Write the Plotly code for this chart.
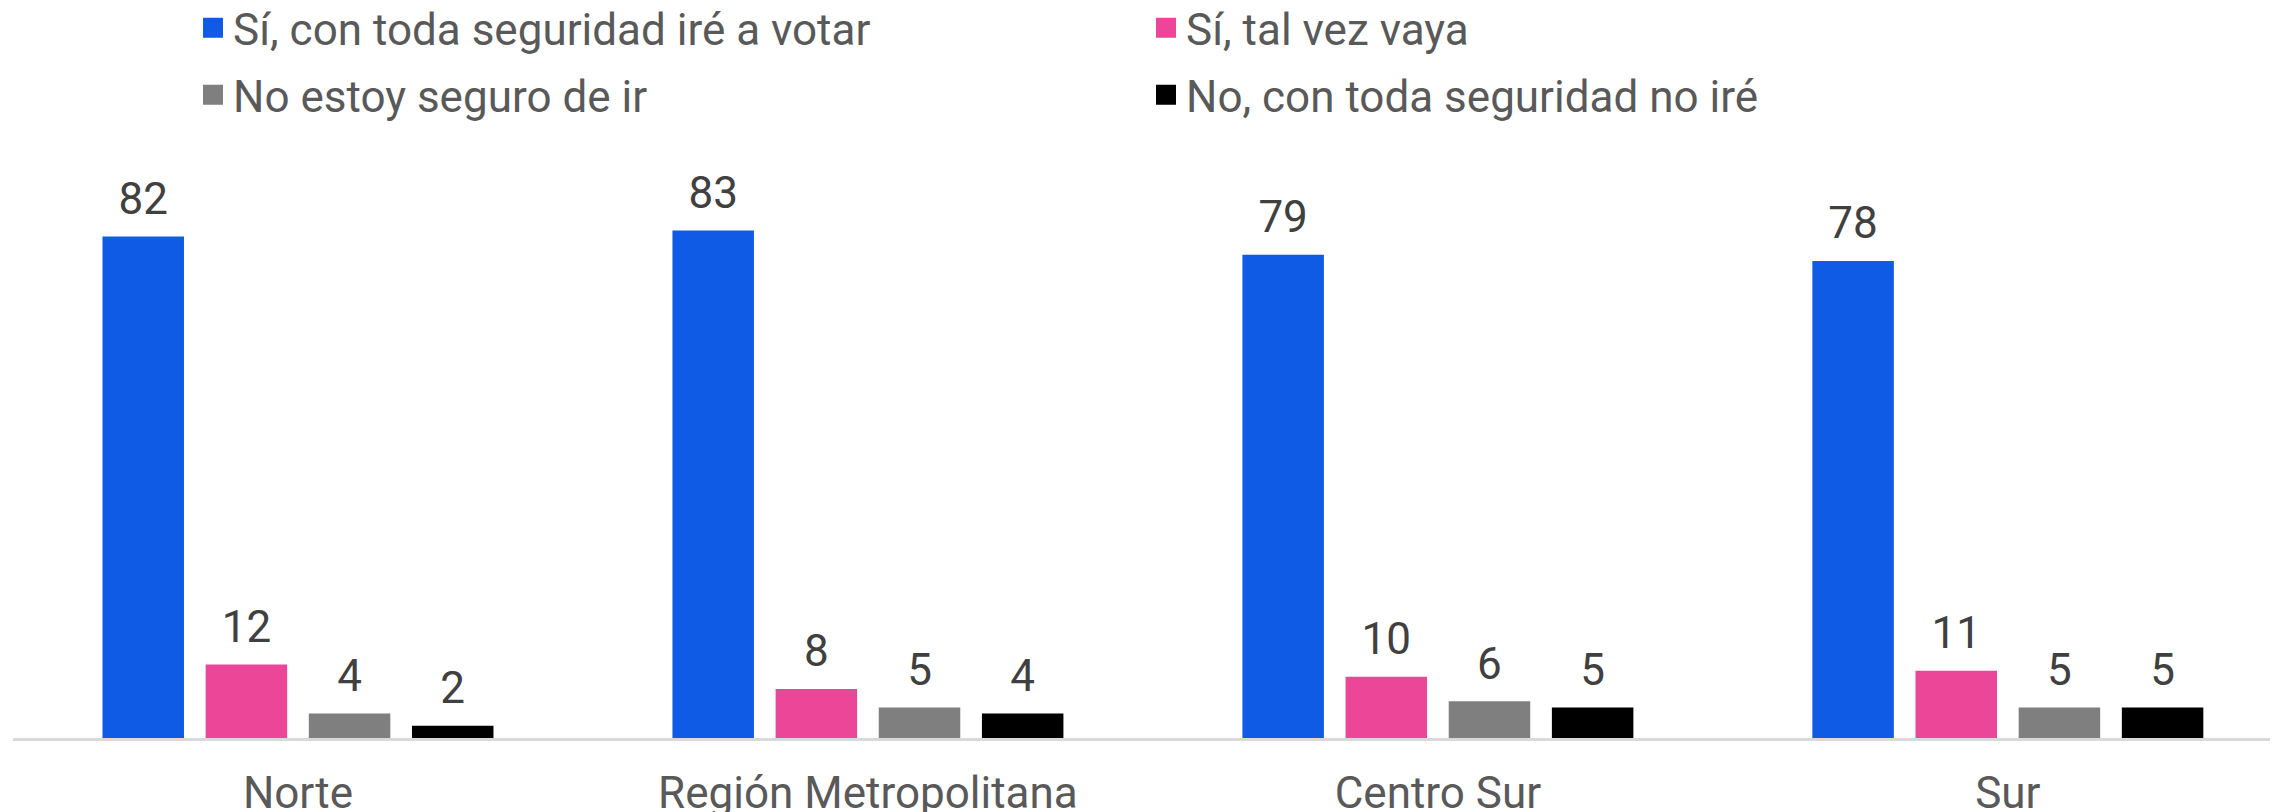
import plotly.graph_objects as go

regiones = ["Norte", "Región Metropolitana", "Centro Sur", "Sur"]
series = [
    "Sí, con toda seguridad iré a votar",
    "Sí, tal vez vaya",
    "No estoy seguro de ir",
    "No, con toda seguridad no iré",
]
seguro_si = [82, 83, 79, 78]
tal_vez = [12, 8, 10, 11]
no_seguro = [4, 5, 6, 5]
seguro_no = [2, 4, 5, 5]
colores = ["#0F5BE5", "#EC4699", "#7F7F7F", "#000000"]

valores = [seguro_si, tal_vez, no_seguro, seguro_no]
fuente = "Roboto"
tam = 44

fig = go.Figure()
for i, (nombre, vals, col) in enumerate(zip(series, valores, colores)):
    fig.add_trace(go.Bar(
        x=regiones, y=vals, name=nombre, marker_color=col,
        marker_line_width=0, offsetgroup=str(i), showlegend=False,
    ))
for i, (nombre, vals, col) in enumerate(zip(series, valores, colores)):
    # etiquetas de datos sobre cada barra
    fig.add_trace(go.Scatter(
        x=regiones, y=vals, mode="markers+text", text=[str(v) for v in vals],
        textposition="top center", offsetgroup=str(i),
        marker=dict(size=17, opacity=0), showlegend=False, hoverinfo="skip",
        textfont=dict(family=fuente, size=tam, color="#404040"),
    ))
# leyenda en dos filas (dos leyendas)
for i, (nombre, col) in enumerate(zip(series, colores)):
    fig.add_trace(go.Scatter(
        x=[None], y=[None], mode="markers", name=nombre,
        marker=dict(symbol="square", size=16, color=col, line=dict(width=4, color=col)),
        legend="legend" if i < 2 else "legend2",
    ))

leyenda = dict(
    orientation="h", xref="container", yref="container", x=0.0815,
    xanchor="left", yanchor="middle", entrywidth=908,
    font=dict(family=fuente, size=tam, color="#595959"), bgcolor="rgba(0,0,0,0)",
)

fig.update_layout(
    width=2270, height=804,
    margin=dict(l=5, r=0, t=122, b=74),
    paper_bgcolor="white", plot_bgcolor="white",
    barmode="group", bargap=0.276, bargroupgap=0.21,
    scattermode="group",
    font=dict(family=fuente, size=tam, color="#595959"),
    legend=dict(leyenda, y=0.975),
    legend2=dict(leyenda, y=0.8915),
    xaxis=dict(
        range=[-0.5, 3.474], showline=True, linecolor="#D9D9D9", linewidth=3,
        ticks="", ticklabelstandoff=14, automargin=False,
        tickfont=dict(family=fuente, size=tam, color="#595959"),
    ),
    yaxis=dict(range=[0, 99.3], visible=False, showgrid=False, zeroline=False),
)

fig.write_html("out.html")
